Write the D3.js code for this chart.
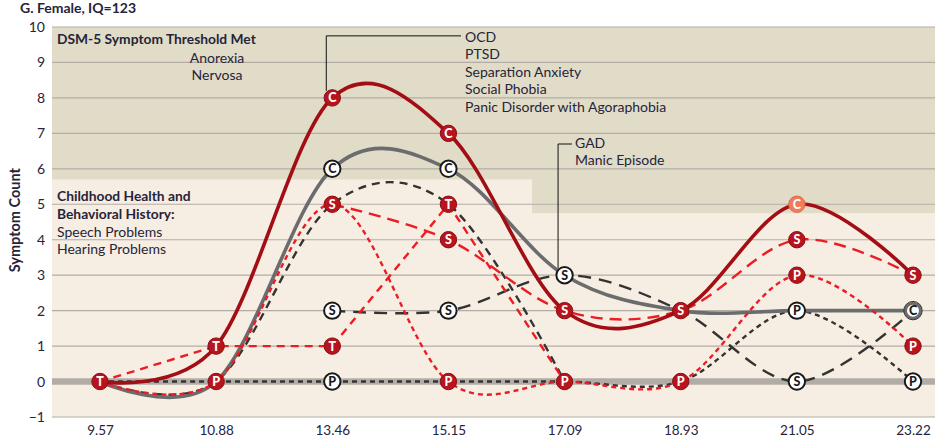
<!DOCTYPE html>
<html><head><meta charset="utf-8">
<script src="https://cdn.jsdelivr.net/npm/d3@7"></script>
<style>
body{margin:0;background:#fff;}
svg text{font-family:Lato,"Open Sans",sans-serif;fill:#26243a;}
</style>
</head><body><svg id="c" width="943" height="444"></svg>
<script>
const categories = ["9.57","10.88","13.46","15.15","17.09","18.93","21.05","23.22"];
const yTicks = [-1,0,1,2,3,4,5,6,7,8,9,10];
const yTickLabels = ["\u22121","0","1","2","3","4","5","6","7","8","9","10"];

const redTotal     = [0,1,8,7,2,2,5,3];
const redSelf      = [null,null,5,4,2,2,4,3];
const redParent    = [0,0,5,0,0,0,3,1];
const redTeacher   = [0,1,1,5,0,null,null,null];
const blackTotal   = [0,0,6,6,3,2,2,2];
const blackSelf    = [null,null,2,2,3,2,0,2];
const blackParent  = [0,0,0,0,0,0,2,0];
const blackTeacher = [0,0,5,5,0,null,null,null];

const markerCat    = ["9.57","10.88","10.88","13.46","13.46","13.46","13.46","13.46","13.46","15.15","15.15","15.15","15.15","15.15","15.15","17.09","17.09","17.09","18.93","18.93","21.05","21.05","21.05","21.05","21.05","23.22","23.22","23.22","23.22"];
const markerValue  = [0,1,0,8,6,5,2,1,0,7,6,5,4,2,0,3,2,0,2,0,5,4,3,2,0,3,2,1,0];
const markerLetter = ["T","T","P","C","C","S","S","T","P","C","C","T","S","S","P","S","S","P","S","P","C","S","P","P","S","S","C","P","P"];
const markerKind   = ["red","red","red","red","white","red","white","red","white","red","white","red","red","white","red","white","red","red","red","red","salmon","red","red","white","white","red","gray","red","white"];

const title = "G. Female, IQ=123";
const yLabel = "Symptom Count";
const thresholdTitle = "DSM-5 Symptom Threshold Met";
const thresholdNote = ["Anorexia","Nervosa"];
const historyTitle = ["Childhood Health and","Behavioral History:"];
const historyItems = ["Speech Problems","Hearing Problems"];
const noteA = ["OCD","PTSD","Separation Anxiety","Social Phobia","Panic Disorder with Agoraphobia"];
const noteB = ["GAD","Manic Episode"];

const svg = d3.select("#c");
const L = 52, R = 935, T = 27, B = 417;
const x = d3.scalePoint().domain(categories).range([100, 913]);
const y = d3.scaleLinear().domain([-1, 10]).range([B, T]);
const step = x.step();

// backgrounds
svg.append("rect").attr("x", L).attr("y", T).attr("width", R - L).attr("height", B - T).attr("fill", "#e1dcc7");
const splitX = x("15.15") + 0.72 * step;
svg.append("rect").attr("x", L).attr("y", y(5.7)).attr("width", splitX - L).attr("height", B - y(5.7)).attr("fill", "#f6eee2");
svg.append("rect").attr("x", splitX).attr("y", y(4.75)).attr("width", R - splitX).attr("height", B - y(4.75)).attr("fill", "#f6eee2");

// gridlines
svg.append("g").selectAll("line").data(yTicks).join("line")
  .attr("x1", L).attr("x2", R).attr("y1", d => y(d)).attr("y2", d => y(d))
  .attr("stroke", "#b4ada6").attr("stroke-width", 1.2);
// zero band
svg.append("line").attr("x1", L).attr("x2", R).attr("y1", y(0)).attr("y2", y(0))
  .attr("stroke", "#b2aca7").attr("stroke-width", 6.5);

// axes
const yAxis = d3.axisLeft(y).tickValues(yTicks).tickFormat((d, i) => yTickLabels[i]).tickSize(0).tickPadding(7);
const gy = svg.append("g").attr("transform", `translate(${L},0)`).call(yAxis);
gy.select(".domain").remove();
gy.selectAll("text").style("font-size", "14px").attr("fill", "#26243a");
const xAxis = d3.axisBottom(x).tickSize(0).tickPadding(8);
const gx = svg.append("g").attr("transform", `translate(0,${B})`).call(xAxis);
gx.select(".domain").remove();
gx.selectAll("text").style("font-size", "13.5px").attr("fill", "#26243a");

// title & labels
svg.append("text").attr("x", 20).attr("y", 13).text(title).style("font-size", "14px").style("font-weight", "700");
svg.append("text").attr("transform", `translate(20,${y(4.55)}) rotate(-90)`).attr("text-anchor", "middle")
  .text(yLabel).style("font-size", "14.5px").style("font-weight", "700");

svg.append("text").attr("x", 57).attr("y", 44).text(thresholdTitle).style("font-size", "13.8px").style("font-weight", "700");
thresholdNote.forEach((t, i) => svg.append("text").attr("x", 217).attr("y", 63 + i * 17).attr("text-anchor", "middle").text(t).style("font-size", "14px"));
historyTitle.forEach((t, i) => svg.append("text").attr("x", 57).attr("y", 201 + i * 18).text(t).style("font-size", "13.8px").style("font-weight", "700"));
historyItems.forEach((t, i) => svg.append("text").attr("x", 57).attr("y", 236.5 + i * 17.5).text(t).style("font-size", "14px"));

// leader lines
const lx1 = x("13.46") - 6, ly1 = y(9.75);
svg.append("path").attr("d", `M${lx1},${y(8) - 7}V${ly1}H461`).attr("fill", "none").attr("stroke", "#111").attr("stroke-width", 1);
noteA.forEach((t, i) => svg.append("text").attr("x", 465).attr("y", 42 + i * 17.4).text(t).style("font-size", "14px"));
const lx2 = x("17.09") - 6.5, ly2 = y(6.7);
svg.append("path").attr("d", `M${lx2},${y(3) - 7}V${ly2}H572`).attr("fill", "none").attr("stroke", "#111").attr("stroke-width", 1);
noteB.forEach((t, i) => svg.append("text").attr("x", 575).attr("y", 148 + i * 17.4).text(t).style("font-size", "14px"));

// lines
const series = [
  {v: blackParent,  c: "#333333", w: 2.4, dash: "5,4",  curve: d3.curveCardinal},
  {v: blackTeacher, c: "#333333", w: 2.4, dash: "8,6",  curve: d3.curveCardinal},
  {v: blackSelf,    c: "#333333", w: 2.4, dash: "13,8", curve: d3.curveCardinal},
  {v: blackTotal,   c: "#6b6c6e", w: 3.6, dash: null,   curve: d3.curveCardinal},
  {v: redParent,    c: "#ec1c24", w: 2.4, dash: "5,4",  curve: d3.curveCardinal},
  {v: redTeacher,   c: "#ec1c24", w: 2.4, dash: "8,6",  curve: d3.curveLinear},
  {v: redSelf,      c: "#ec1c24", w: 2.4, dash: "12,7", curve: d3.curveCardinal},
  {v: redTotal,     c: "#a30d14", w: 3.6, dash: null,   curve: d3.curveCardinal}
];
series.forEach(s => {
  const pts = categories.map((c, i) => [c, s.v[i]]).filter(p => p[1] !== null);
  const line = d3.line().x(p => x(p[0])).y(p => y(p[1])).curve(s.curve);
  svg.append("path").attr("d", line(pts)).attr("fill", "none").attr("stroke", s.c)
    .attr("stroke-width", s.w).attr("stroke-dasharray", s.dash).attr("stroke-linecap", "butt");
});

// markers
const kinds = {
  red:    {fill: "#b8141d", stroke: "#8a0e14", sw: 1, text: "#fff"},
  salmon: {fill: "#f27b5b", stroke: "#e06a4a", sw: 1, text: "#fff"},
  white:  {fill: "#fff", stroke: "#1a1a1a", sw: 2, text: "#1a1a1a"},
  gray:   {fill: "#fff", stroke: "#6b6c6e", sw: 3, text: "#1a1a1a"}
};
const mk = svg.append("g").selectAll("g").data(markerCat.map((c, i) => i)).join("g")
  .attr("transform", i => `translate(${x(markerCat[i])},${y(markerValue[i])})`);
mk.append("circle").attr("r", i => markerKind[i] === "gray" ? 7.5 : 8.2)
  .attr("fill", i => kinds[markerKind[i]].fill).attr("stroke", i => kinds[markerKind[i]].stroke)
  .attr("stroke-width", i => kinds[markerKind[i]].sw);
mk.filter(i => markerKind[i] === "gray").append("circle").attr("r", 9.2).attr("fill", "none").attr("stroke", "#333").attr("stroke-width", 1);
mk.append("text").attr("text-anchor", "middle").attr("dy", "0.36em").text(i => markerLetter[i])
  .style("font-size", "12.5px").style("font-weight", "900").style("fill", i => kinds[markerKind[i]].text);
</script></body></html>
